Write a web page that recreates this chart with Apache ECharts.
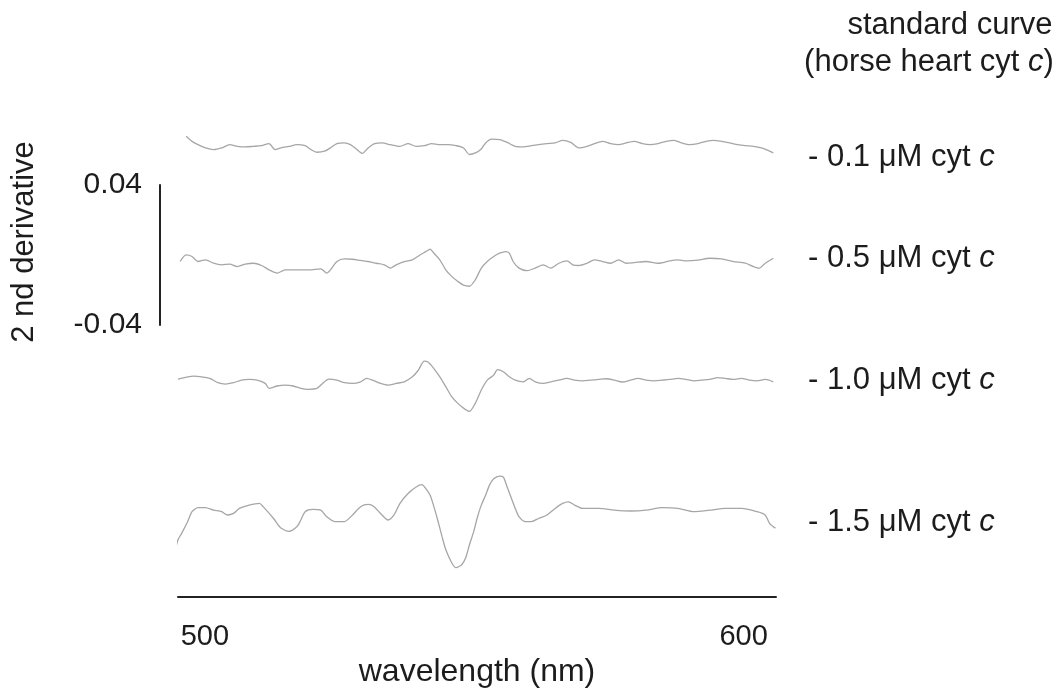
<!DOCTYPE html>
<html><head><meta charset="utf-8">
<script src="https://cdn.jsdelivr.net/npm/echarts@6/dist/echarts.min.js"></script>
<style>html,body{margin:0;padding:0;background:#fff}#c{width:1064px;height:693px}</style>
</head><body><div id="c"></div>
<script>
// wavelength (nm) and 2nd-derivative values
const wl1 = [496.5,497.6,498.7,500.1,501.6,503.1,504.6,506.0,507.5,509.0,510.5,511.9,513.0,514.1,515.6,517.1,518.6,519.7,520.8,522.2,523.3,524.5,525.9,527.0,528.1,529.2,530.3,531.5,532.9,534.4,536.2,537.7,539.2,540.7,542.1,543.6,545.1,546.6,548.0,549.1,550.2,551.3,552.1,553.2,554.7,556.1,557.6,559.1,560.6,562.0,563.5,565.0,566.4,567.9,569.4,570.9,572.3,573.8,575.3,576.8,578.2,579.7,581.2,582.6,584.1,585.6,587.1,588.5,590.0,591.5,593.0,594.4,595.9,597.4,598.9,600.3,601.8,603.3,604.4,605.5];
const d1 = [0.0048,0.0019,0,-0.0019,-0.0029,-0.0019,0,-0.0010,-0.0013,-0.0010,-0.0006,0.0006,-0.0029,-0.0019,-0.0010,0,-0.0006,-0.0029,-0.0044,-0.0038,-0.0019,0.0006,0.0010,0,-0.0025,-0.0051,-0.0019,0.0006,0.0010,0,-0.0010,0.0006,-0.0010,-0.0006,0.0006,0,0,-0.0006,-0.0019,-0.0057,-0.0048,-0.0025,0.0010,0.0032,0.0029,0.0013,-0.0010,-0.0013,-0.0006,0,0.0006,0.0010,0.0025,0.0013,-0.0019,-0.0010,0.0006,0.0019,0.0006,0,0.0010,0.0019,0.0006,0,0.0006,0.0019,0.0025,0.0010,0,0.0006,0.0019,0.0025,0.0019,0.0010,0,-0.0006,-0.0010,-0.0019,-0.0032,-0.0048];

const wl2 = [495.4,496.5,497.6,498.7,500.1,501.6,503.1,504.6,506.0,507.5,509.0,510.5,511.9,513.4,514.9,517.1,519.3,521.5,522.6,523.3,524.5,525.9,527.4,528.9,530.3,531.8,533.3,534.4,535.5,537.0,538.5,539.9,541.0,541.8,542.5,543.6,544.7,545.8,546.9,548.0,549.1,550.2,551.3,552.4,553.6,554.7,555.8,556.5,557.2,558.3,559.8,561.3,562.8,564.2,565.7,567.2,568.3,569.4,570.9,572.3,573.8,575.3,576.8,578.2,579.7,581.9,584.1,586.3,587.8,589.3,591.5,593.7,595.9,598.1,600.3,601.8,602.9,604.0,605.5];
const d2 = [0,0.0038,0.0029,0,0.0010,-0.0010,-0.0019,-0.0015,-0.0029,-0.0015,-0.0010,-0.0023,-0.0048,-0.0067,-0.0048,-0.0048,-0.0048,-0.0042,-0.0067,-0.0048,0,0.0015,0.0013,0.0006,0,-0.0010,-0.0019,-0.0038,-0.0019,0,0.0010,0.0038,0.0057,0.0072,0.0048,0.0010,-0.0048,-0.0086,-0.0114,-0.0137,-0.0143,-0.0105,-0.0038,0,0.0029,0.0048,0.0057,0.0048,0,-0.0038,-0.0053,-0.0038,-0.0019,-0.0038,-0.0010,0.0004,-0.0019,-0.0023,-0.0010,0.0010,0,-0.0010,0.0010,-0.0010,-0.0006,0,-0.0010,0.0004,0.0010,0.0004,0.0008,0.0019,0.0015,0,-0.0010,-0.0029,-0.0038,-0.0010,0.0019];

const wl3 = [495.0,497.9,499.4,500.9,502.4,503.8,505.3,506.8,508.2,509.7,511.2,511.9,513.4,514.9,516.4,517.8,519.3,520.8,521.5,523.0,524.5,525.9,527.4,528.9,530.0,531.1,532.6,534.0,535.5,537.0,538.5,539.6,540.7,541.4,542.5,543.6,544.7,545.8,546.9,548.0,549.1,550.2,551.3,552.4,553.6,554.3,555.4,556.5,557.6,559.1,560.2,561.3,562.8,564.2,565.7,567.2,568.6,570.1,571.6,573.1,574.5,576.0,577.5,579.0,580.4,581.9,583.4,584.9,586.3,587.8,589.3,590.8,592.2,593.7,595.2,596.6,598.1,599.6,601.1,602.5,604.0,605.5];
const d3 = [0.0006,0.0023,0.0019,0.0010,-0.0015,-0.0023,-0.0015,0,0.0004,0,-0.0019,-0.0048,-0.0034,-0.0029,-0.0034,-0.0048,-0.0053,-0.0048,-0.0029,0.0006,0,-0.0015,-0.0019,-0.0010,0.0010,0,-0.0019,-0.0029,-0.0019,-0.0010,0.0019,0.0057,0.0110,0.0105,0.0067,0.0019,-0.0038,-0.0095,-0.0133,-0.0162,-0.0181,-0.0133,-0.0057,0,0.0029,0.0061,0.0048,0.0019,0,-0.0010,0.0010,-0.0010,-0.0019,-0.0010,0,0.0010,0,-0.0004,0,0.0004,0.0008,0,-0.0011,0,0.0010,0,-0.0004,0,0.0004,0.0010,0.0004,-0.0004,0,0.0004,0.0015,0.0010,0.0004,0.0010,0,-0.0004,0.0004,-0.0010];

const wl4 = [494.6,495.0,495.7,496.8,497.6,498.7,500.1,501.6,503.1,504.2,505.3,506.4,508.2,510.1,510.8,512.7,514.1,515.6,517.1,517.8,518.6,520.0,521.5,522.6,524.1,525.9,527.4,528.9,530.3,531.4,532.6,534.0,535.1,536.2,537.7,539.2,540.3,541.0,541.8,542.5,543.2,544.0,544.7,545.8,546.6,547.7,548.4,549.1,549.9,550.6,551.3,552.1,552.8,553.6,554.7,555.4,556.1,556.9,557.6,558.3,559.4,560.6,562.0,563.5,565.0,566.4,567.5,568.6,570.1,573.1,576.0,579.0,581.9,584.9,587.8,590.8,593.7,596.6,599.6,602.5,604.0,604.8,605.9];
const d4 = [-0.0229,-0.0181,-0.0143,-0.0076,-0.0019,0.0004,0.0004,-0.0010,-0.0019,-0.0038,-0.0029,0,0.0019,0.0029,0.0010,-0.0057,-0.0114,-0.0133,-0.0105,-0.0067,-0.0019,-0.0006,-0.0010,-0.0048,-0.0076,-0.0076,-0.0038,0.0010,0.0023,0.0010,-0.0029,-0.0067,-0.0038,0.0029,0.0086,0.0124,0.0137,0.0114,0.0076,0.0010,-0.0067,-0.0162,-0.0238,-0.0314,-0.0343,-0.0324,-0.0286,-0.0210,-0.0133,-0.0048,0.0019,0.0076,0.0133,0.0171,0.0187,0.0181,0.0124,0.0057,0,-0.0048,-0.0076,-0.0076,-0.0057,-0.0038,0,0.0029,0.0038,0.0019,0,0,-0.0010,-0.0015,-0.0010,0.0004,0,-0.0019,-0.0010,0,0,-0.0019,-0.0038,-0.0086,-0.0114];

const traceLabels = ['- 0.1 \u03bcM cyt {i|c}', '- 0.5 \u03bcM cyt {i|c}', '- 1.0 \u03bcM cyt {i|c}', '- 1.5 \u03bcM cyt {i|c}'];
const xTicks = [500, 600];
const scaleTicks = [-0.04, 0.04];

// vertical stacking offsets of the traces (layout)
const offsets = [-0.0183, -0.0859, -0.1545, -0.2287];
const labelTops = [157, 258, 380, 522];

const FONT = 'Liberation Sans, Arial, sans-serif';
const TXT = '#1c1c1c';
const FS = 31;
const traces = [[wl1, d1], [wl2, d2], [wl3, d3], [wl4, d4]];

const series = traces.map((t, k) => ({
  type: 'line', xAxisIndex: 0, yAxisIndex: 0,
  data: t[0].map((x, i) => [x, t[1][i] + offsets[k]]),
  showSymbol: false, smooth: 0.25,
  lineStyle: { color: '#a6a6a6', width: 1.3 },
  silent: true
}));

const richI = { i: { fontStyle: 'italic', fontSize: FS, fontFamily: FONT, fill: TXT } };
const g = [];
g.push({ type: 'text', x: 950, y: 25, style: { text: 'standard curve', font: FS + 'px ' + FONT, fill: TXT, align: 'center', verticalAlign: 'middle' } });
g.push({ type: 'text', x: 929, y: 62, style: { text: '(horse heart cyt {i|c})', font: FS + 'px ' + FONT, fill: TXT, align: 'center', verticalAlign: 'middle', rich: richI } });
traceLabels.forEach((s, k) => {
  g.push({ type: 'text', x: 808, y: labelTops[k], style: { text: s, font: FS + 'px ' + FONT, fill: TXT, align: 'left', verticalAlign: 'middle', rich: richI } });
});

const chart = echarts.init(document.getElementById('c'));
chart.setOption({
  animation: false,
  backgroundColor: '#fff',
  grid: [
    { left: 178, width: 598, top: 113, height: 490 },
    { left: 160, width: 1, top: 185, height: 140 }
  ],
  xAxis: [
    { type: 'value', gridIndex: 0, min: 495, max: 606, position: 'bottom',
      axisLine: { show: true, onZero: false, lineStyle: { color: '#222', width: 2 } },
      axisTick: { show: false }, splitLine: { show: false },
      axisLabel: { customValues: xTicks, fontSize: 29, fontFamily: FONT, color: TXT, margin: 25 },
      name: 'wavelength (nm)', nameLocation: 'middle', nameGap: 52,
      nameTextStyle: { fontSize: 32, fontFamily: FONT, color: TXT } },
    { type: 'value', gridIndex: 1, show: false, min: 0, max: 1 }
  ],
  yAxis: [
    { type: 'value', gridIndex: 0, show: false, min: -0.28, max: 0 },
    { type: 'value', gridIndex: 1, min: -0.04, max: 0.04,
      axisLine: { show: true, onZero: false, lineStyle: { color: '#222', width: 2 } },
      axisTick: { show: false }, splitLine: { show: false },
      axisLabel: { customValues: scaleTicks, fontSize: 30, fontFamily: FONT, color: TXT, margin: 18,
        formatter: v => String(Math.round(v * 100) / 100) },
      name: '2 nd derivative', nameLocation: 'middle', nameGap: 120, nameRotate: 90,
      nameTextStyle: { fontSize: 31, fontFamily: FONT, color: TXT, padding: [0, 0, 0, 26] } }
  ],
  series: series,
  graphic: g
});
</script></body></html>
